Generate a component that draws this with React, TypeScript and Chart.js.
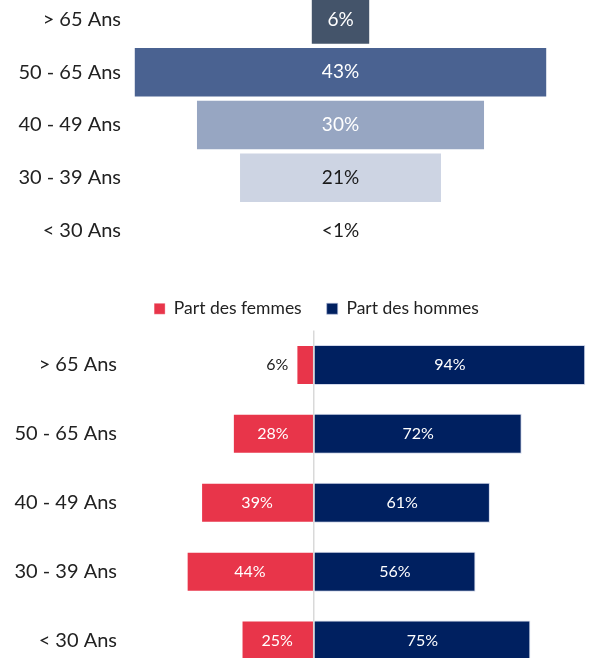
import React, { useEffect, useRef } from "react";
import { Chart, registerables } from "chart.js";

Chart.register(...registerables);

// ---------- Data ----------
const ageCategories = ["> 65 Ans", "50 - 65 Ans", "40 - 49 Ans", "30 - 39 Ans", "< 30 Ans"];

// Funnel (share of each age group)
const funnelValues = [6, 43, 30, 21, 0.1];
const funnelLabels = ["6%", "43%", "30%", "21%", "<1%"];
const funnelColors = ["#44546A", "#4A6291", "#97A6C2", "#CDD4E3", "#FFFFFF"];
const funnelLabelColors = ["#ffffff", "#ffffff", "#ffffff", "#1a1a1a", "#1a1a1a"];

// Gender split per age group
const legendWomen = "Part des femmes";
const legendMen = "Part des hommes";
const womenValues = [6, 28, 39, 44, 25];
const menValues = [94, 72, 61, 56, 75];
const womenColor = "#E8354A";
const menColor = "#002060";

const FONT = "Lato, 'Noto Sans', sans-serif";

const labelPlugin = {
  id: "barLabels",
  afterDatasetsDraw(chart: any) {
    const ctx = chart.ctx;
    const opts = chart.options.plugins.barLabels || {};
    chart.data.datasets.forEach((ds: any, di: number) => {
      const meta = chart.getDatasetMeta(di);
      meta.data.forEach((el: any, i: number) => {
        const p = el.getProps(["x", "y", "base"], true);
        const text = ds.labelTexts[i];
        const colors = ds.labelColors;
        const color = Array.isArray(colors) ? colors[i] : colors;
        ctx.save();
        ctx.font = `${opts.size || 15}px ${FONT}`;
        ctx.textBaseline = "middle";
        const w = Math.abs(p.x - p.base);
        const tw = ctx.measureText(text).width;
        const left = Math.min(p.x, p.base);
        if (opts.outside && w < tw + 6) {
          ctx.fillStyle = opts.outsideColor || "#1a1a1a";
          ctx.textAlign = "right";
          ctx.fillText(text, left - 8, p.y);
        } else {
          ctx.fillStyle = color;
          ctx.textAlign = "center";
          ctx.fillText(text, (p.x + p.base) / 2, p.y);
        }
        ctx.restore();
      });
    });
  },
};

// shifts the legend (the legend is centred on the canvas by default)
const legendShift = {
  id: "legendShift",
  afterLayout(chart: any) {
    const o = chart.options.plugins.legendShift || {};
    const dx = o.dx || 0;
    const dy = o.dy || 0;
    if (chart.legend) {
      chart.legend.left += dx;
      chart.legend.right += dx;
      chart.legend.top += dy;
      chart.legend.bottom += dy;
    }
  },
};

export default function App() {
  const topRef = useRef<HTMLCanvasElement>(null);
  const botRef = useRef<HTMLCanvasElement>(null);

  useEffect(() => {
    const yAxisCommon = (w: number, padTop: number) => ({
      position: "left" as const,
      grid: { display: false, drawTicks: false },
      border: { display: false },
      ticks: { font: { family: FONT, size: 20 }, color: "#222222", padding: 9 },
      afterFit: (scale: any) => {
        scale.width = w;
        scale.paddingTop = padTop;
        scale.paddingBottom = 0;
      },
    });

    const top = new Chart(topRef.current!, {
      type: "bar",
      data: {
        labels: ageCategories,
        datasets: [
          {
            data: funnelValues.map((v) => [-v / 2, v / 2]) as any,
            backgroundColor: funnelColors,
            borderWidth: 0,
            borderSkipped: false,
            barPercentage: 0.92,
            categoryPercentage: 1,
            labelTexts: funnelLabels,
            labelColors: funnelLabelColors,
          } as any,
        ],
      },
      options: {
        indexAxis: "y",
        responsive: false,
        animation: false,
        devicePixelRatio: 1,
        layout: { padding: { top: 13, bottom: 0, left: 0, right: 42 } },
        scales: {
          x: { display: false, min: -22, max: 22 },
          y: yAxisCommon(130, 0) as any,
        },
        plugins: {
          legend: { display: false },
          tooltip: { enabled: false },
          barLabels: { size: 19 },
        } as any,
      },
      plugins: [labelPlugin],
    });

    const bot = new Chart(botRef.current!, {
      type: "bar",
      data: {
        labels: ageCategories,
        datasets: [
          {
            label: legendWomen,
            data: womenValues.map((v) => -v),
            backgroundColor: womenColor,
            borderColor: "rgba(255,255,255,0.35)",
            borderWidth: 1,
            barPercentage: 0.58,
            categoryPercentage: 1,
            labelTexts: womenValues.map((v) => `${v}%`),
            labelColors: "#ffffff",
          } as any,
          {
            label: legendMen,
            data: menValues,
            backgroundColor: menColor,
            borderColor: "rgba(180,190,220,0.6)",
            borderWidth: 1,
            barPercentage: 0.58,
            categoryPercentage: 1,
            labelTexts: menValues.map((v) => `${v}%`),
            labelColors: "#ffffff",
          } as any,
        ],
      },
      options: {
        indexAxis: "y",
        responsive: false,
        animation: false,
        devicePixelRatio: 1,
        layout: { padding: { top: 0, bottom: 0, left: 0, right: 2 } },
        scales: {
          x: {
            stacked: true,
            min: -65,
            max: 96,
            ticks: { display: false, stepSize: 5 },
            border: { display: false },
            grid: {
              drawTicks: false,
              lineWidth: 1.5,
              color: (c: any) => (c.tick && c.tick.value === 0 ? "#d9d9d9" : "rgba(0,0,0,0)"),
            },
          },
          y: { ...(yAxisCommon(126, 58.5) as any), stacked: true },
        },
        plugins: {
          legend: {
            display: true,
            position: "top",
            labels: {
              boxWidth: 11,
              boxHeight: 11,
              padding: 25,
              color: "#222222",
              font: { family: FONT, size: 17.5 },
            },
          },
          legendShift: { dx: 21, dy: -3 },
          tooltip: { enabled: false },
          barLabels: { size: 16, outside: true, outsideColor: "#1a1a1a" },
        } as any,
      },
      plugins: [labelPlugin, legendShift],
    });

    return () => {
      top.destroy();
      bot.destroy();
    };
  }, []);

  return (
    <div
      style={{
        position: "fixed",
        left: 0,
        top: 0,
        width: 593,
        height: 658,
        overflow: "hidden",
        background: "#ffffff",
      }}
    >
      <canvas
        ref={topRef}
        width={593}
        height={277}
        style={{ position: "absolute", left: 0, top: -20, width: 593, height: 277 }}
      />
      <canvas
        ref={botRef}
        width={593}
        height={403}
        style={{ position: "absolute", left: 0, top: 272, width: 593, height: 403 }}
      />
    </div>
  );
}
